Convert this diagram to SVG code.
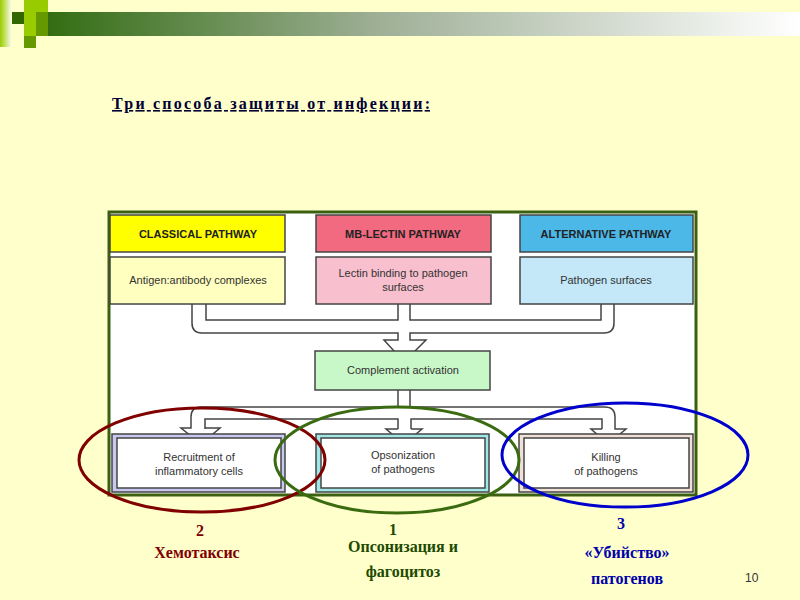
<svg xmlns="http://www.w3.org/2000/svg" width="800" height="600" viewBox="0 0 800 600">
<defs>
<linearGradient id="bar" x1="0" x2="1" y1="0" y2="0"><stop offset="0" stop-color="#2E6A0C"/><stop offset="0.45" stop-color="#9EAF96"/><stop offset="1" stop-color="#FFFFFF"/></linearGradient>
<linearGradient id="strip" x1="0" x2="1" y1="0" y2="0"><stop offset="0" stop-color="#99CC00"/><stop offset="1" stop-color="#FFFFEE"/></linearGradient>
</defs>
<style>
.lbl{font-family:"Liberation Sans",Arial,sans-serif;font-size:11px;fill:#333;text-anchor:middle}
.hdr{font-family:"Liberation Sans",Arial,sans-serif;font-size:11px;font-weight:bold;fill:#222;text-anchor:middle}
.box{stroke:#444;stroke-width:1.5}
.conn{fill:none;stroke:#444;stroke-width:1.5}
.ru{font-family:"Liberation Serif","Times New Roman",serif;font-size:16px;font-weight:bold;text-anchor:middle}
</style>
<rect width="800" height="600" fill="#FFFFCC"/>
<g id="header">
<rect x="32" y="12" width="768" height="24" fill="url(#bar)"/>
<rect x="0" y="0" width="12" height="47" fill="url(#strip)"/>
<rect x="12" y="12" width="12" height="12" fill="#336600"/>
<rect x="24" y="0" width="12" height="12" fill="#99CC00"/>
<rect x="36" y="0" width="12" height="12" fill="#99CC00"/>
<rect x="24" y="12" width="12" height="12" fill="#99CC00"/>
<rect x="36" y="12" width="12" height="12" fill="#669900"/>
<rect x="24" y="24" width="12" height="12" fill="#99CC00"/>
<rect x="36" y="24" width="12" height="12" fill="#669900"/>
<rect x="24" y="36" width="12" height="12" fill="#669900"/>
</g>
<text x="112" y="109" font-family="Liberation Serif,serif" font-size="16" font-weight="bold" fill="#000033" text-decoration="underline" textLength="318" lengthAdjust="spacing">Три способа защиты от инфекции:</text>
<rect id="frame" x="109" y="212" width="587" height="283" fill="#FFFFFF" stroke="#3A6010" stroke-width="3"/>
<g id="connectors">
<path d="M192 304 V323 Q192 333 202 333 H398 V340 H384 L404 362 L426 340 H410 V333 H604 Q614 333 614 323 V304" fill="#FFFFFF" stroke="#444" stroke-width="1.5"/>
<path class="conn" d="M206 304 V320 H398 V304 M410 304 V320 H601 V304"/>
<path d="M398 390 V407 H201 Q191 407 191 417 V428 H181 L201 444 L220 428 H205 M398 429 H386 L404 444 L422 429 H411 M602 429 H591 L608 444 L626 429 H615 V417 Q615 407 605 407 H410 V390" fill="none" stroke="#444" stroke-width="1.5"/>
<path class="conn" d="M205 429 V419 H398 V429 M411 429 V419 H602 V429"/>
</g>
<g id="classical"><rect class="box" x="110" y="215" width="175" height="37" fill="#FFFF00"/><text class="hdr" x="198" y="238">CLASSICAL  PATHWAY</text></g>
<g id="mblectin"><rect class="box" x="316" y="215" width="175" height="37" fill="#F26A80"/><text class="hdr" x="403" y="238">MB-LECTIN  PATHWAY</text></g>
<g id="alternative"><rect class="box" x="520" y="215" width="173" height="37" fill="#4CB8E8"/><text class="hdr" x="606" y="238">ALTERNATIVE  PATHWAY</text></g>
<g id="antigen"><rect class="box" x="110" y="257" width="175" height="47" fill="#FFFFC0"/><text class="lbl" x="198" y="284">Antigen:antibody complexes</text></g>
<g id="lectin"><rect class="box" x="316" y="257" width="175" height="47" fill="#F8C0CE"/><text class="lbl" x="403" y="277">Lectin binding to pathogen</text><text class="lbl" x="403" y="291">surfaces</text></g>
<g id="surfaces"><rect class="box" x="520" y="257" width="173" height="47" fill="#C4E8F8"/><text class="lbl" x="606" y="284">Pathogen surfaces</text></g>
<g id="activation"><rect class="box" x="315" y="351" width="175" height="39" fill="#C8F8C8"/><text class="lbl" x="403" y="374">Complement activation</text></g>
<g id="recruitment"><rect class="box" x="112" y="434" width="173" height="58" fill="#C8C8F0"/><rect class="box" x="117" y="438" width="164" height="50" fill="#FFFFFF"/><text class="lbl" x="199" y="461">Recruitment of</text><text class="lbl" x="199" y="475">inflammatory cells</text></g>
<g id="opsonization"><rect class="box" x="316" y="434" width="173" height="58" fill="#A0E8E8"/><rect class="box" x="321" y="438" width="164" height="50" fill="#FFFFFF"/><text class="lbl" x="403" y="459">Opsonization</text><text class="lbl" x="403" y="473">of pathogens</text></g>
<g id="killing"><rect class="box" x="519" y="434" width="174" height="58" fill="#F0E0D8"/><rect class="box" x="524" y="438" width="165" height="50" fill="#FFFFFF"/><text class="lbl" x="606" y="461">Killing</text><text class="lbl" x="606" y="475">of pathogens</text></g>
<g id="highlights" fill="none" stroke-width="3">
<ellipse cx="202" cy="460" rx="123" ry="52" stroke="#800000"/>
<ellipse cx="397" cy="460" rx="122" ry="53" stroke="#3A6B10"/>
<ellipse cx="625" cy="455" rx="123" ry="52" stroke="#0000CC"/>
</g>
<g id="captions">
<text class="ru" x="200" y="536" fill="#800000">2</text>
<text class="ru" x="197" y="558" fill="#800000">Хемотаксис</text>
<text class="ru" x="393" y="535" fill="#1E4A00">1</text>
<text class="ru" x="403" y="552" fill="#1E4A00">Опсонизация и</text>
<text class="ru" x="403" y="577" fill="#1E4A00">фагоцитоз</text>
<text class="ru" x="621" y="529" fill="#0000AA">3</text>
<text class="ru" x="627" y="558" fill="#0000AA">«Убийство»</text>
<text class="ru" x="627" y="584" fill="#0000AA">патогенов</text>
</g>
<text x="745" y="582" font-family="Liberation Sans,sans-serif" font-size="12" fill="#333">10</text>
</svg>
